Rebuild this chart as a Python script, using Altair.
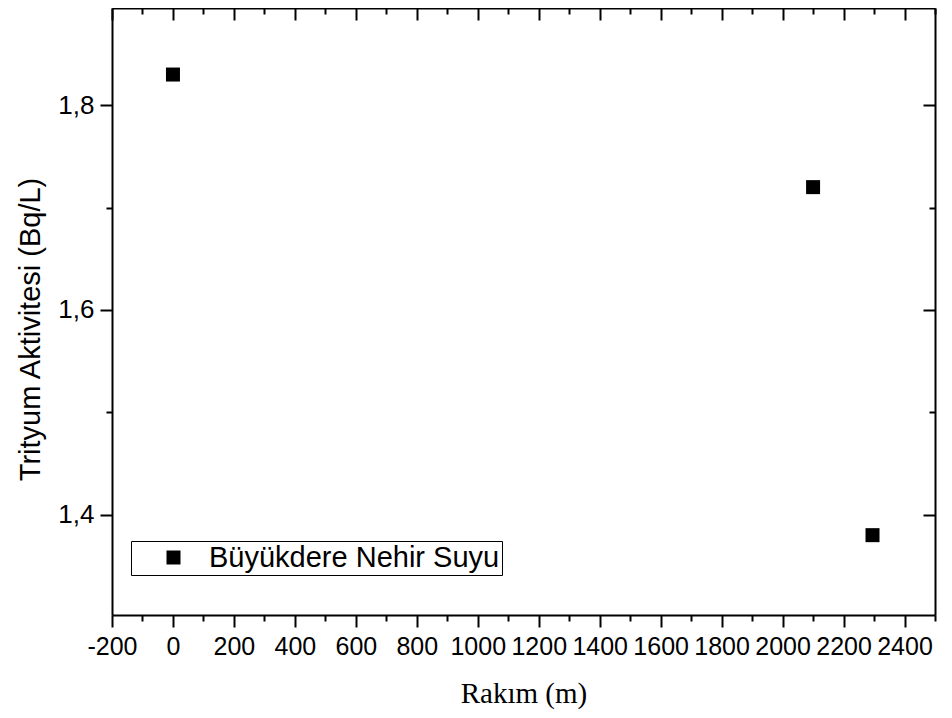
import altair as alt
import pandas as pd

# data
rakim = [0, 2100, 2295]
trityum = [1.83, 1.72, 1.38]
seri = ["Büyükdere Nehir Suyu"] * 3

x_major = list(range(-200, 2401, 200))
x_minor = list(range(-100, 2501, 200))
y_major = [1.4, 1.6, 1.8]
y_minor = [1.3, 1.5, 1.7]

df = pd.DataFrame({"rakim": rakim, "trityum": trityum, "seri": seri})

W, H = 823, 607
SANS = "Liberation Sans"
xs = alt.Scale(domain=[-200, 2500], nice=False, zero=False)
ys = alt.Scale(domain=[1.302, 1.895], nice=False, zero=False)

common = dict(grid=False, tickColor="black", tickWidth=2, domainColor="black",
              domainWidth=2, labelColor="black")


def plain_axis(orient, values, size, offset=0, domain=False):
    return alt.Axis(orient=orient, values=values, tickSize=size, offset=offset,
                    labels=False, domain=domain, title=None, **common)


x_main = alt.Axis(orient="bottom", values=x_major, tickSize=12, domain=True,
                  labelFont=SANS, labelFontSize=25, labelPadding=27,
                  labelBaseline="alphabetic", labelFlush=False, labelOverlap=False,
                  labelExpr="'' + datum.value",
                  title="Rakım (m)", titleFont="Liberation Serif", titleFontSize=29,
                  titleFontWeight="normal", titleColor="black",
                  titleBaseline="alphabetic", titleY=87, **common)
y_main = alt.Axis(orient="left", values=y_major, tickSize=12, domain=True,
                  labelFont=SANS, labelFontSize=26, labelPadding=6,
                  labelOverlap=False,
                  labelExpr="replace(format(datum.value, '.1f'), '.', ',')",
                  title="Trityum Aktivitesi (Bq/L)", titleFont=SANS,
                  titleFontSize=29, titleFontWeight="normal", titleColor="black",
                  titleBaseline="alphabetic", titleX=-73, titleY=321, **common)

legend = alt.Legend(orient="none", legendX=19, legendY=533, title=None,
                    symbolType="square", symbolSize=196, symbolFillColor="black",
                    symbolStrokeWidth=0, symbolOffset=26, labelOffset=21,
                    labelFont=SANS, labelFontSize=29, labelColor="black",
                    labelLimit=0, padding=2, strokeColor="black", fillColor="white")

points = alt.Chart(df).mark_square(size=196, opacity=1, filled=True).encode(
    x=alt.X("rakim:Q", scale=xs, axis=x_main),
    y=alt.Y("trityum:Q", scale=ys, axis=y_main),
    color=alt.Color("seri:N", scale=alt.Scale(range=["black"]), legend=legend),
)


def ghost(xa, ya):
    return alt.Chart(df).mark_square(opacity=0).encode(
        x=alt.X("rakim:Q", scale=xs, axis=xa),
        y=alt.Y("trityum:Q", scale=ys, axis=ya),
    )


minor = ghost(plain_axis("bottom", x_minor, 6), plain_axis("left", y_minor, 6))
opp_major = ghost(plain_axis("bottom", x_major, 12, offset=-H, domain=True),
                  plain_axis("left", y_major, 12, offset=-W, domain=True))
opp_minor = ghost(plain_axis("bottom", x_minor, 6, offset=-H),
                  plain_axis("left", y_minor, 6, offset=-W))

chart = alt.layer(points, minor, opp_major, opp_minor).resolve_axis(
    x="independent", y="independent"
).properties(
    width=W, height=H,
    autosize=alt.AutoSizeParams(type="none"),
    padding={"left": 104, "top": 0, "right": 9, "bottom": 94},
).configure_view(stroke=None).configure(background="white")

chart.save("out.html", embed_options={"renderer": "svg", "actions": False})
